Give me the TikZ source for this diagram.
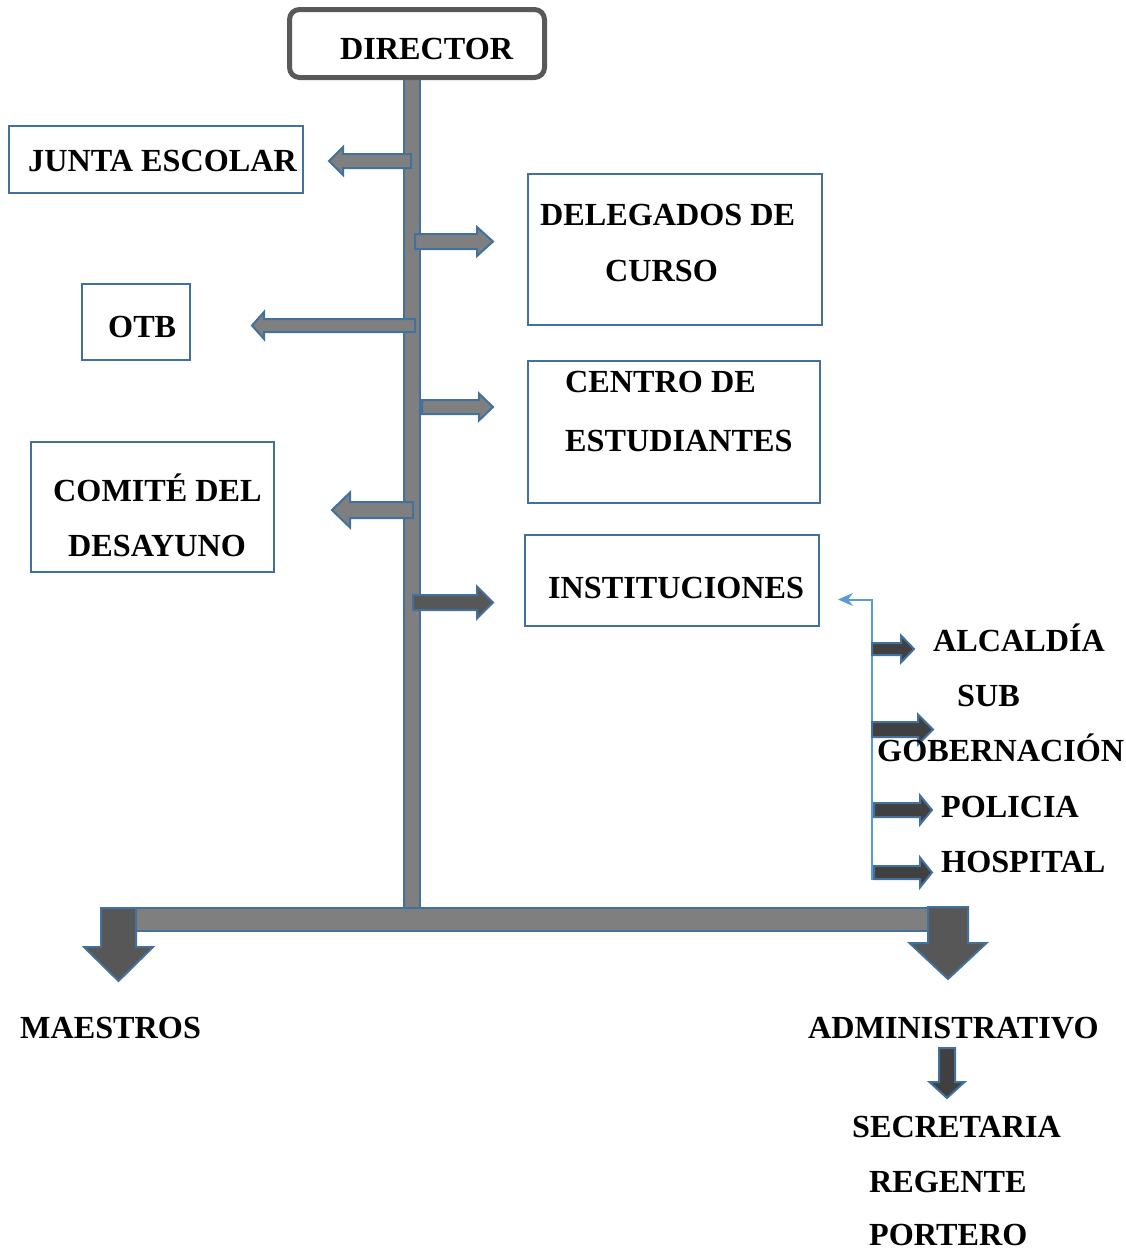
\documentclass[tikz,border=0pt]{standalone}
\usepackage{fontspec}
\setmainfont{Liberation Serif}
\usetikzlibrary{arrows.meta}
\definecolor{bordblue}{HTML}{41719C}
\definecolor{lineblue}{HTML}{5B9BD5}
\definecolor{midgray}{HTML}{7F7F7F}
\definecolor{darkgray1}{HTML}{575757}
\definecolor{darkgray2}{HTML}{404040}
\definecolor{dirgray}{HTML}{595959}
\newcommand\hblk[7]{\path[#7] (#1,{#3-#4}) -- (#6,{#3-#4}) -- (#6,{#3-#5}) -- (#2,#3) -- (#6,{#3+#5}) -- (#6,{#3+#4}) -- (#1,{#3+#4}) -- cycle;}
\newcommand\vblk[7]{\path[#7] ({#1-#5},#2) -- ({#1+#5},#2) -- ({#1+#5},#3) -- ({#1+#6},#3) -- (#1,#4) -- ({#1-#6},#3) -- ({#1-#5},#3) -- ({#1-#5},#2) -- cycle;}
\begin{document}
\begin{tikzpicture}[x=1pt,y=-1pt,
  lbl/.style={font=\fontsize{32.2}{36}\selectfont\bfseries, inner sep=0pt, anchor=base west},
  box/.style={draw=bordblue, line width=2pt, fill=white, inner sep=0pt},
  bar/.style={fill=midgray, draw=bordblue, line width=2pt},
  garrow/.style={fill=midgray, draw=bordblue, line width=2pt, line join=miter},
  darrow/.style={fill=darkgray1, draw=bordblue, line width=2pt, line join=miter},
  sarrow/.style={fill=darkgray2, draw=bordblue, line width=2pt, line join=miter},
  bracket/.style={draw=lineblue, line width=2pt}]
\useasboundingbox (0,0) rectangle (1126,1251);
% trunk and bar
\path[bar] (404,78) rectangle (420,910);
\path[bar] (110,908) rectangle (955,931);
% director
\node[draw=dirgray, line width=5pt, rounded corners=10pt, fill=white, minimum width=255pt, minimum height=68pt, inner sep=0pt] (dir) at (417,43.5) {};
\node[lbl] (dirt) at (340,59) {DIRECTOR};
% boxes
\node[box, minimum width=294pt, minimum height=67pt] (junta) at (156,159.5) {};
\node[box, minimum width=294pt, minimum height=151pt] (deleg) at (675,249.5) {};
\node[box, minimum width=108pt, minimum height=76pt] (otb) at (136,322) {};
\node[box, minimum width=292pt, minimum height=142pt] (centro) at (674,432) {};
\node[box, minimum width=243pt, minimum height=130pt] (comite) at (152.5,507) {};
\node[box, minimum width=294pt, minimum height=91pt] (inst) at (672,580.5) {};
% side arrows
\hblk{411}{329}{161}{7}{14}{343}{garrow}
\hblk{415}{493}{241.5}{7.5}{14.5}{477}{garrow}
\hblk{415}{252}{325.5}{6.5}{13.5}{264}{garrow}
\hblk{422}{493}{407}{7}{13.5}{479}{garrow}
\hblk{413}{332}{510}{8}{17.5}{350}{garrow}
\hblk{413}{493}{602.5}{7.5}{16}{477}{darrow}
% bracket for institutions
\coordinate (brk) at (872,880);
\coordinate (instin) at (838,599.5);
\draw[bracket, -{Stealth[length=15pt,width=13pt]}] (brk) |- (instin);
\hblk{872}{914}{649}{6}{13.5}{901}{sarrow}
\hblk{872}{933}{729.5}{7.5}{15}{918}{sarrow}
\hblk{874}{932}{810}{7}{14.5}{920}{sarrow}
\hblk{874}{932}{872.5}{6.5}{15}{920}{sarrow}
% down arrows
\vblk{118.5}{908}{947}{981}{17.5}{34.5}{darrow}
\vblk{948}{907}{943}{979}{20}{38.5}{darrow}
\vblk{947}{1048}{1082}{1098}{8}{17.5}{sarrow}
% labels
\node[lbl] (t1) at (28,171) {JUNTA ESCOLAR};
\node[lbl] (t2) at (540,225) {DELEGADOS DE};
\node[lbl] (t3) at (605,281) {CURSO};
\node[lbl] (t4) at (108,337) {OTB};
\node[lbl] (t5) at (565,392) {CENTRO DE};
\node[lbl] (t6) at (565,451) {ESTUDIANTES};
\node[lbl] (t7) at (53,501) {COMITÉ DEL};
\node[lbl] (t8) at (68,556) {DESAYUNO};
\node[lbl] (t9) at (548,598) {INSTITUCIONES};
\node[lbl] (t10) at (933,651) {ALCALDÍA};
\node[lbl] (t11) at (957,706) {SUB};
\node[lbl] (t12) at (877,761) {GOBERNACIÓN};
\node[lbl] (t13) at (941,817) {POLICIA};
\node[lbl] (t14) at (941,872) {HOSPITAL};
\node[lbl] (t15) at (20,1038) {MAESTROS};
\node[lbl] (t16) at (808,1038) {ADMINISTRATIVO};
\node[lbl] (t17) at (852,1137) {SECRETARIA};
\node[lbl] (t18) at (869,1192) {REGENTE};
\node[lbl] (t19) at (869,1245) {PORTERO};
\end{tikzpicture}
\end{document}
